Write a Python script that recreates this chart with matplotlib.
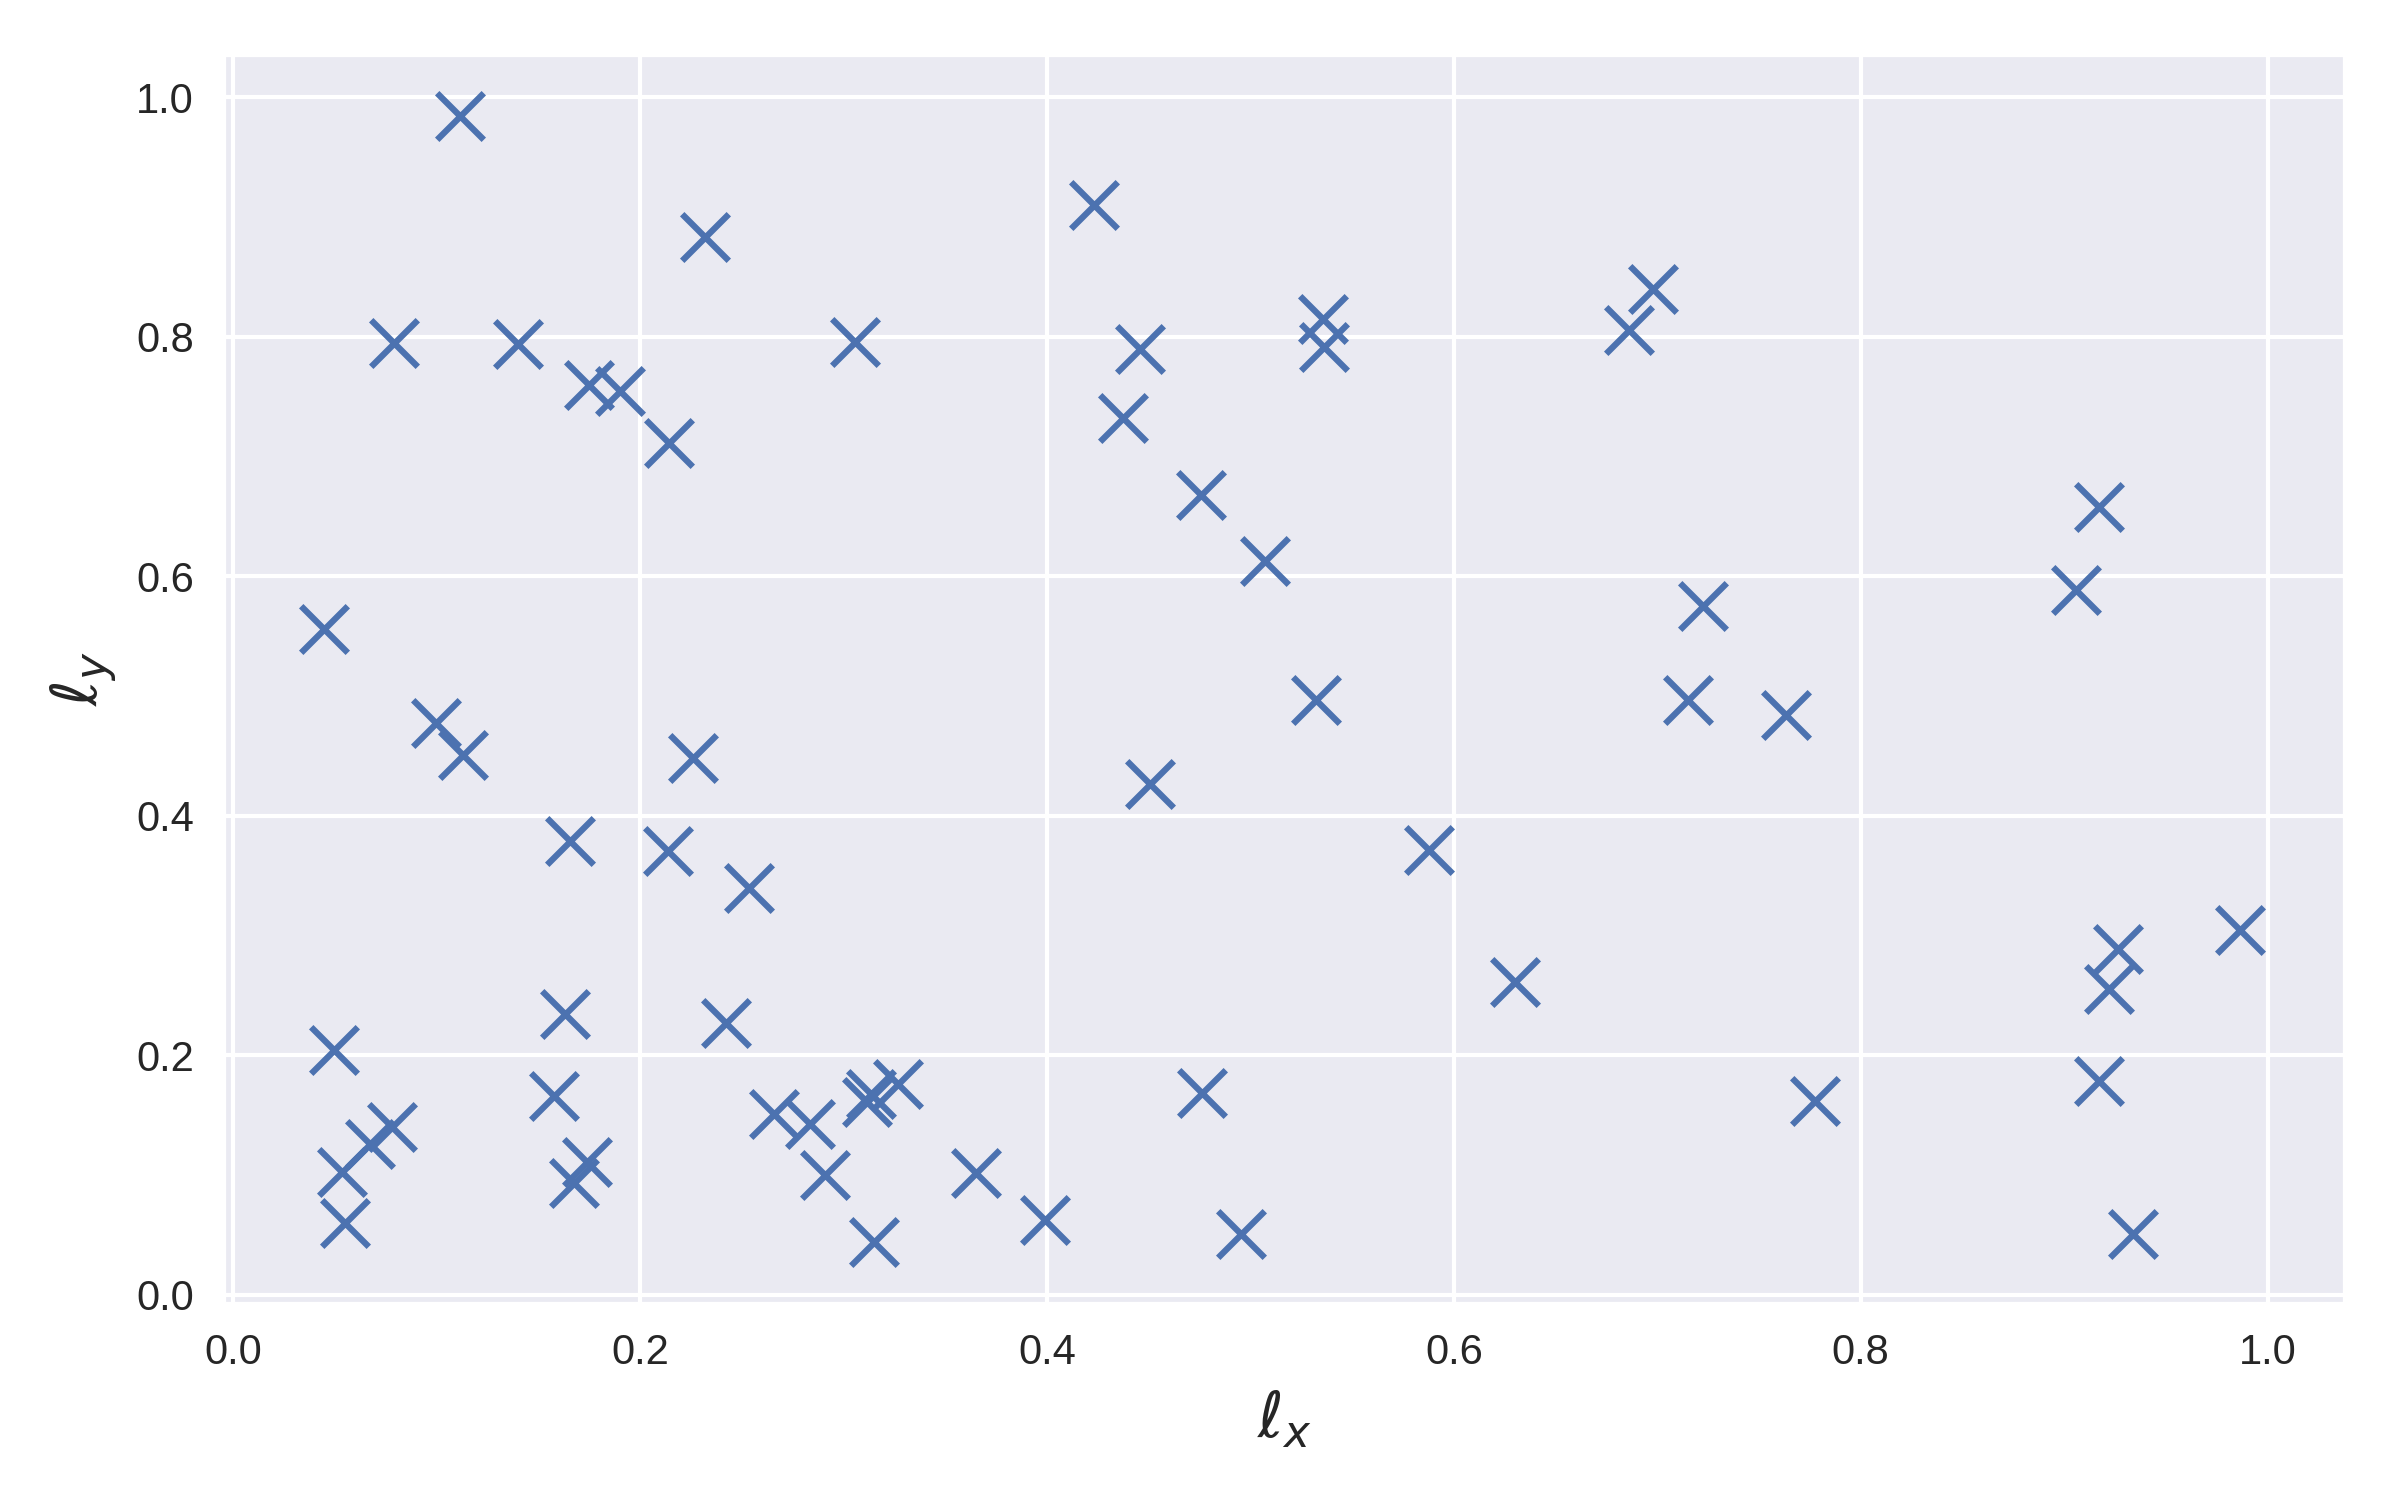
import matplotlib
matplotlib.use('Agg')
import matplotlib.pyplot as plt
import seaborn as sns

# point positions
lx = [0.1115, 0.2319, 0.4230, 0.0791, 0.1398, 0.3058, 0.1747, 0.1900, 0.2140, 0.4456,
      0.4373, 0.5359, 0.5364, 0.6978, 0.6860, 0.4757, 0.5073, 0.9174, 0.9060, 0.7225,
      0.0445, 0.0994, 0.1130, 0.2259, 0.5320, 0.7150, 0.7631, 0.4508, 0.1656, 0.2138,
      0.2537, 0.5878, 0.6300, 0.9866, 0.9265, 0.9220, 0.0495, 0.1630, 0.2420, 0.1575,
      0.4764, 0.7774, 0.9174, 0.0532, 0.0547, 0.0671, 0.0781, 0.1737, 0.1675, 0.2660,
      0.2833, 0.2910, 0.3113, 0.3133, 0.3268, 0.3150, 0.3650, 0.3990, 0.4952, 0.9340]
ly = [0.984, 0.883, 0.910, 0.7946, 0.794, 0.7956, 0.7594, 0.7546, 0.711, 0.7895,
      0.732, 0.815, 0.7914, 0.840, 0.8053, 0.668, 0.613, 0.658, 0.5887, 0.5747,
      0.5555, 0.4775, 0.4506, 0.4481, 0.4967, 0.4967, 0.4839, 0.4263, 0.379, 0.3701,
      0.3394, 0.3713, 0.2614, 0.3048, 0.2882, 0.255, 0.204, 0.234, 0.227, 0.1654,
      0.168, 0.1617, 0.1783, 0.102, 0.0596, 0.126, 0.140, 0.1105, 0.093, 0.151,
      0.1426, 0.0994, 0.1607, 0.1677, 0.176, 0.0437, 0.1016, 0.0619, 0.0504, 0.0504]

sns.set_theme(style='darkgrid')
plt.rcParams['font.family'] = ['Liberation Sans', 'DejaVu Sans']

fig = plt.figure(figsize=(8, 5), dpi=300)
ax = fig.add_axes([0.093, 0.131, 0.884, 0.833])

ax.scatter(lx, ly, marker='x', s=125, linewidths=1.5, color='#4C72B0')

ax.set_xlim(-0.005, 1.038)
ax.set_ylim(-0.0075, 1.036)
ax.set_xticks([0.0, 0.2, 0.4, 0.6, 0.8, 1.0])
ax.set_yticks([0.0, 0.2, 0.4, 0.6, 0.8, 1.0])
ax.tick_params(labelsize=10, pad=1)
ax.set_xlabel(r'$\ell_x$', fontsize=15)
ax.set_ylabel(r'$\ell_y$', fontsize=15)

fig.savefig('out.png', dpi=300)
plt.close(fig)
